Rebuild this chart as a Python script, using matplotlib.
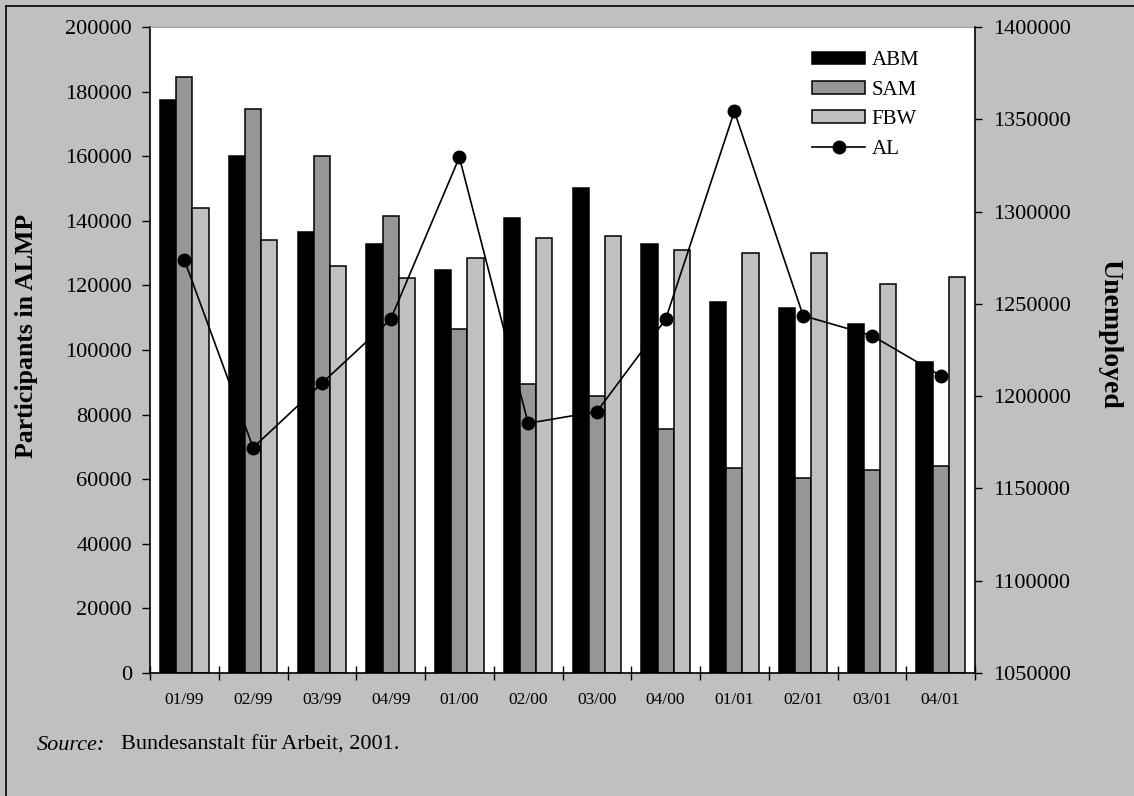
import numpy as np
import matplotlib
matplotlib.use("Agg")
import matplotlib.pyplot as plt
from matplotlib.lines import Line2D
from matplotlib.ticker import FuncFormatter

plt.rcParams['font.family'] = ['Liberation Serif', 'DejaVu Serif']

# data
quarters = ['01/99', '02/99', '03/99', '04/99', '01/00', '02/00',
            '03/00', '04/00', '01/01', '02/01', '03/01', '04/01']
abm = [177400, 160100, 136600, 132800, 124800, 141000,
       150000, 132800, 114900, 113000, 107900, 96300]
sam = [184600, 174700, 160000, 141400, 106600, 89400,
       85800, 75600, 63500, 60400, 62800, 64100]
fbw = [144000, 134000, 126000, 122200, 128400, 134600,
       135200, 130900, 130100, 130100, 120300, 122700]
al = [1273800, 1172100, 1207000, 1241600, 1329400, 1185300,
      1191600, 1241600, 1354300, 1243600, 1232800, 1211100]

bg = '#c0c0c0'
fig = plt.figure(figsize=(11.34, 7.96), dpi=100, facecolor=bg)
ax = fig.add_axes([150 / 1134, 1 - 673 / 796, 825 / 1134, 646 / 796])
ax.set_facecolor('white')

x = np.arange(len(quarters))
w = 0.235
ax.bar(x - w, abm, w, color='black', edgecolor='black', linewidth=1.1, label='ABM', zorder=2)
ax.bar(x, sam, w, color='#969696', edgecolor='black', linewidth=1.1, label='SAM', zorder=2)
ax.bar(x + w, fbw, w, color='#c0c0c0', edgecolor='black', linewidth=1.1, label='FBW', zorder=2)

plain = FuncFormatter(lambda v, p: f'{v:.0f}')

ax.set_xlim(-0.5, len(quarters) - 0.5)
ax.set_ylim(0, 200000)
ax.set_yticks(np.arange(0, 200001, 20000))
ax.yaxis.set_major_formatter(plain)
ax.set_xticks(np.arange(-0.5, len(quarters), 1.0))
ax.set_xticklabels([])
ax.set_xticks(x, minor=True)
ax.set_xticklabels(quarters, minor=True, fontsize=12.5)
ax.tick_params(axis='x', which='major', direction='inout', length=10, width=1)
ax.tick_params(axis='x', which='minor', length=0, pad=14)
ax.tick_params(axis='y', direction='out', length=6, width=1, labelsize=16, pad=7)
ax.spines['top'].set_color('#a0a0a0')
ax.spines['right'].set_visible(False)
for s in ['left', 'bottom']:
    ax.spines[s].set_linewidth(1.2)

ax2 = ax.twinx()
ax2.plot(x, al, color='black', linewidth=1.2, marker='o', markersize=9, label='AL', zorder=3)
ax2.set_ylim(1050000, 1400000)
ax2.set_yticks(np.arange(1050000, 1400001, 50000))
ax2.yaxis.set_major_formatter(plain)
ax2.tick_params(axis='y', direction='out', length=5, width=1, labelsize=16, pad=8)
ax2.spines['top'].set_visible(False)
ax2.spines['left'].set_visible(False)
ax2.spines['bottom'].set_visible(False)
ax2.spines['right'].set_linewidth(1.2)

h1, l1 = ax.get_legend_handles_labels()
h2, l2 = ax2.get_legend_handles_labels()
leg = ax2.legend(h1 + h2, l1 + l2, loc='upper left', bbox_to_anchor=(0.785, 0.985),
                 frameon=False, fontsize=15, handlelength=2.55, handleheight=0.56,
                 handletextpad=0.3, labelspacing=0.5, borderpad=0.2)

fig.text(27 / 1134, 1 - 336 / 796, 'Participants in ALMP', rotation=90,
         fontsize=18.5, fontweight='bold', ha='center', va='center')
fig.text(1110 / 1134, 1 - 334 / 796, 'Unemployed', rotation=-90,
         fontsize=20, fontweight='bold', ha='center', va='center')

fig.text(37 / 1134, 1 - 745 / 796, 'Source:', fontsize=16, style='italic',
         ha='left', va='center')
fig.text(121 / 1134, 1 - 745 / 796, 'Bundesanstalt für Arbeit, 2001.', fontsize=16,
         ha='left', va='center')

# frame lines at top and left
fig.add_artist(Line2D([6 / 1134, 6 / 1134], [0, 1 - 6 / 796], transform=fig.transFigure,
                      color='black', linewidth=1.2))
fig.add_artist(Line2D([6 / 1134, 1], [1 - 6 / 796, 1 - 6 / 796], transform=fig.transFigure,
                      color='black', linewidth=1.2))

fig.savefig('out.png', dpi=100, facecolor=bg)
